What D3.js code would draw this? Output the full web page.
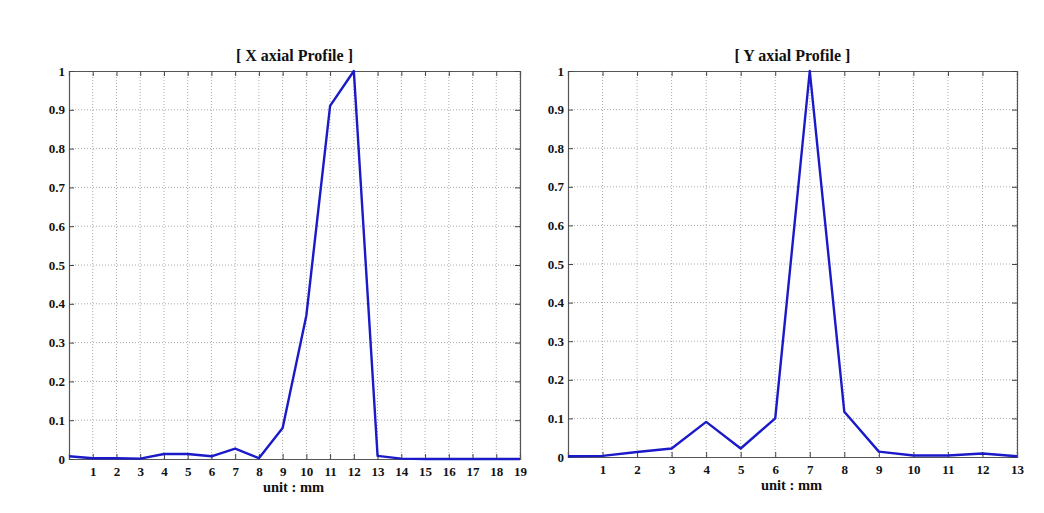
<!DOCTYPE html>
<html><head><meta charset="utf-8">
<script src="https://cdn.jsdelivr.net/npm/d3@7"></script>
<style>body{margin:0;background:#fff}svg{display:block}</style>
</head><body>
<svg id="c" width="1044" height="513"></svg>
<script>
// ---- data ----
const xPositions = [0,1,2,3,4,5,6,7,8,9,10,11,12,13,14,15,16,17,18,19];
const xProfile   = [0.007,0.002,0.002,0.001,0.013,0.013,0.007,0.027,0.002,0.08,0.37,0.91,1.0,0.008,0.001,0,0,0,0,0];
const yPositions = [0,1,2,3,4,5,6,7,8,9,10,11,12,13];
const yProfile   = [0.002,0.003,0.013,0.022,0.091,0.022,0.1,1.0,0.117,0.014,0.004,0.004,0.009,0.002];
const xTicksLeft  = [1,2,3,4,5,6,7,8,9,10,11,12,13,14,15,16,17,18,19];
const xTicksRight = [1,2,3,4,5,6,7,8,9,10,11,12,13];
const yTicks = [0,0.1,0.2,0.3,0.4,0.5,0.6,0.7,0.8,0.9,1];
const yTickLabels = ["0","0.1","0.2","0.3","0.4","0.5","0.6","0.7","0.8","0.9","1"];
const titles = ["[ X axial Profile ]","[ Y axial Profile ]"];
const xLabel = "unit : mm";

const svg = d3.select("#c");
const font = "'Liberation Serif','Times New Roman',serif";

function panel(cfg){
  const {left,right,top,bottom,xs,ys,xTicks,title} = cfg;
  const x = d3.scaleLinear().domain([0,d3.max(xs)]).range([left,right]);
  const y = d3.scaleLinear().domain([0,1]).range([bottom,top]);
  const g = svg.append("g");
  // grid
  g.append("g").selectAll("line").data(xTicks).join("line")
    .attr("x1",d=>x(d)).attr("x2",d=>x(d)).attr("y1",top).attr("y2",bottom)
    .attr("stroke","#aaa").attr("stroke-width",1).attr("stroke-dasharray","1,2");
  g.append("g").selectAll("line").data(yTicks.slice(1,-1)).join("line")
    .attr("x1",left).attr("x2",right).attr("y1",d=>y(d)).attr("y2",d=>y(d))
    .attr("stroke","#aaa").attr("stroke-width",1).attr("stroke-dasharray","1,2");
  // axes
  const ax = g.append("g").attr("transform",`translate(0,${bottom})`)
    .call(d3.axisBottom(x).tickValues(xTicks).tickSize(-5).tickPadding(8).tickFormat(d3.format("d")));
  const axT = g.append("g").attr("transform",`translate(0,${top})`)
    .call(d3.axisTop(x).tickValues(xTicks).tickSize(-5).tickFormat(""));
  const ay = g.append("g").attr("transform",`translate(${left},0)`)
    .call(d3.axisLeft(y).tickValues(yTicks).tickSize(-5).tickPadding(4).tickFormat((d,i)=>yTickLabels[i]));
  const ayR = g.append("g").attr("transform",`translate(${right},0)`)
    .call(d3.axisRight(y).tickValues(yTicks).tickSize(-5).tickFormat(""));
  [ax,axT,ay,ayR].forEach(a=>{
    a.selectAll(".domain").attr("stroke","#555").attr("stroke-width",1.2);
    a.selectAll(".tick line").attr("stroke","#444");
    a.selectAll("text").attr("font-family",font).attr("font-weight","bold")
      .attr("font-size",13).attr("fill","#111");
  });
  // line
  g.append("path").datum(xs.map((d,i)=>[d,ys[i]]))
    .attr("fill","none").attr("stroke","#1a1ac8").attr("stroke-width",2.4)
    .attr("stroke-linejoin","round")
    .attr("d",d3.line().x(d=>x(d[0])).y(d=>y(d[1])));
  // title
  g.append("text").attr("x",(left+right)/2).attr("y",top-10).attr("text-anchor","middle")
    .attr("font-family",font).attr("font-weight","bold").attr("font-size",16).attr("fill","#111")
    .text(title);
  g.append("text").attr("x",(left+right)/2 - 1).attr("y",bottom+33).attr("text-anchor","middle")
    .attr("font-family",font).attr("font-weight","bold").attr("font-size",14.5).attr("fill","#111")
    .text(xLabel);
}

panel({left:69,right:520,top:71,bottom:459,xs:xPositions,ys:xProfile,xTicks:xTicksLeft,title:titles[0]});
panel({left:568,right:1017,top:71,bottom:457,xs:yPositions,ys:yProfile,xTicks:xTicksRight,title:titles[1]});
</script>
</body></html>
